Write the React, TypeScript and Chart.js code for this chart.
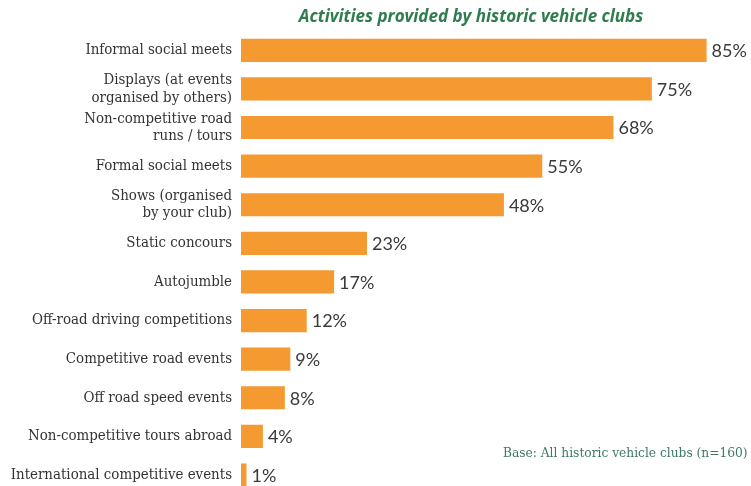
import React, { useEffect, useRef } from "react";
import { Chart, registerables } from "chart.js";

Chart.register(...registerables);

const categories: (string | string[])[] = [
  "Informal social meets",
  ["Displays (at events", "organised by others)"],
  ["Non-competitive road", "runs / tours"],
  "Formal social meets",
  ["Shows (organised", "by your club)"],
  "Static concours",
  "Autojumble",
  "Off-road driving competitions",
  "Competitive road events",
  "Off road speed events",
  "Non-competitive tours abroad",
  "International competitive events",
];
const values: number[] = [85, 75, 68, 55, 48, 23, 17, 12, 9, 8, 4, 1];
const titleText = "Activities provided by historic vehicle clubs";
const footnoteText = "Base: All historic vehicle clubs (n=160)";

const BAR = "#F49A30";
const SERIF = '"DejaVu Serif Condensed", "Liberation Serif", serif';

const labelsPlugin = {
  id: "extraText",
  afterDatasetsDraw(chart: any) {
    const ctx = chart.ctx;
    const meta = chart.getDatasetMeta(0);
    ctx.save();
    ctx.fillStyle = "#3a3a3a";
    ctx.font = '18px Lato, "Noto Sans", sans-serif';
    ctx.textAlign = "left";
    ctx.textBaseline = "middle";
    meta.data.forEach((bar: any, i: number) => {
      ctx.fillText(values[i] + "%", bar.x + 5, bar.y + 1);
    });
    ctx.fillStyle = "#2f7d4e";
    ctx.font = 'italic bold 17px "Open Sans", Lato, sans-serif';
    ctx.textAlign = "center";
    ctx.fillText(titleText, 471, 17);
    ctx.fillStyle = "#3f7868";
    ctx.font = "13.6px " + SERIF;
    ctx.textAlign = "left";
    ctx.fillText(footnoteText, 503, 453);
    ctx.restore();
  },
};

export default function App() {
  const ref = useRef<HTMLCanvasElement | null>(null);
  useEffect(() => {
    document.body.style.margin = "0";
    document.body.style.overflow = "hidden";
    if (!ref.current) return;
    const chart = new Chart(ref.current, {
      type: "bar",
      data: {
        labels: categories,
        datasets: [
          {
            data: values,
            backgroundColor: BAR,
            borderWidth: 0,
            categoryPercentage: 1,
            barPercentage: 0.6,
          },
        ],
      },
      options: {
        indexAxis: "y",
        animation: false,
        responsive: false,
        maintainAspectRatio: false,
        layout: { padding: { top: 31, right: 17, bottom: 0, left: 0 } },
        plugins: {
          legend: { display: false },
          tooltip: { enabled: false },
          title: { display: false },
        },
        scales: {
          x: { display: false, min: 0, max: 90 },
          y: {
            grid: { display: false, drawTicks: false },
            border: { display: false },
            ticks: {
              color: "#333",
              font: { family: SERIF, size: 14.9, lineHeight: 1.17 },
              padding: 9,
            },
            afterFit: (scale: any) => {
              scale.width = 241;
            },
          },
        },
      },
      plugins: [labelsPlugin],
    });
    return () => chart.destroy();
  }, []);
  return (
    <div style={{ width: 751, height: 512 }}>
      <canvas ref={ref} width={751} height={512} style={{ display: "block" }} />
    </div>
  );
}
